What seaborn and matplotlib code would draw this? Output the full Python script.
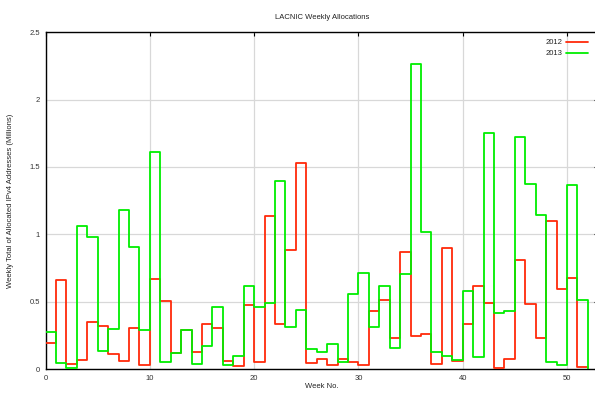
import numpy as np
import pandas as pd
import matplotlib
matplotlib.use("Agg")
import matplotlib.pyplot as plt
import seaborn as sns
from matplotlib.ticker import FormatStrFormatter, MultipleLocator
from matplotlib.lines import Line2D

# Weekly totals of allocated IPv4 addresses (millions); week 52 closes the series at zero
weeks = list(range(53))
alloc_2012 = [0.195, 0.658, 0.035, 0.067, 0.346, 0.319, 0.109, 0.062, 0.307, 0.027,
              0.665, 0.504, 0.121, 0.289, 0.129, 0.336, 0.302, 0.057, 0.020, 0.472,
              0.052, 1.135, 0.336, 0.880, 1.531, 0.042, 0.072, 0.032, 0.077, 0.054,
              0.030, 0.430, 0.514, 0.230, 0.870, 0.245, 0.257, 0.040, 0.900, 0.057,
              0.331, 0.618, 0.487, 0.005, 0.077, 0.811, 0.480, 0.228, 1.098, 0.596,
              0.678, 0.015, 0.0]
alloc_2013 = [0.277, 0.047, 0.010, 1.061, 0.979, 0.136, 0.294, 1.182, 0.903, 0.287,
              1.612, 0.054, 0.121, 0.289, 0.037, 0.173, 0.457, 0.032, 0.094, 0.616,
              0.462, 0.487, 1.397, 0.312, 0.440, 0.151, 0.126, 0.185, 0.049, 0.554,
              0.710, 0.314, 0.618, 0.153, 0.702, 2.265, 1.014, 0.124, 0.099, 0.067,
              0.581, 0.089, 1.753, 0.413, 0.430, 1.719, 1.372, 1.147, 0.052, 0.030,
              1.367, 0.509, 0.0]
years = ["2012", "2013"]
colors = {"2012": "#ff2a0a", "2013": "#00ee00"}

df = pd.concat([
    pd.DataFrame({"week": weeks, "alloc": alloc_2012, "year": years[0]}),
    pd.DataFrame({"week": weeks, "alloc": alloc_2013, "year": years[1]}),
])

sns.set_style("white")
plt.rcParams["font.family"] = ["Liberation Sans", "DejaVu Sans"]

fig = plt.figure(figsize=(5.95, 3.94), dpi=100)
ax = fig.add_axes([45.5 / 595, 25 / 394, 552.8 / 595, 336.7 / 394])

sns.lineplot(data=df, x="week", y="alloc", hue="year", palette=colors,
             estimator=None, sort=True, drawstyle="steps-post",
             linewidth=1.3, ax=ax, legend=False, zorder=3)

ax.set_xlim(0, 53)
ax.set_ylim(0, 2.5)
ax.xaxis.set_major_locator(MultipleLocator(10))
ax.yaxis.set_major_locator(MultipleLocator(0.5))
ax.yaxis.set_major_formatter(FormatStrFormatter("%g"))
ax.grid(True, color="#d8d8d8", linewidth=0.9, zorder=0)
ax.set_axisbelow(True)
ax.tick_params(direction="in", length=3, width=0.8, labelsize=5.5,
               top=True, right=True, colors="black", labelcolor="#333333", pad=4)
for s in ax.spines.values():
    s.set_color("black")
    s.set_linewidth(1.0)

ax.set_title("LACNIC Weekly Allocations", fontsize=5.5, color="#222222", pad=9.5)
ax.set_xlabel("Week No.", fontsize=5.5, color="#222222")
ax.set_ylabel("Weekly Total of Allocated IPv4 Addresses (Millions)", fontsize=5.5,
              color="#222222")
ax.xaxis.set_label_coords(0.5, -0.042)
ax.yaxis.set_label_coords(-0.057, 0.5)

# legend: label text to the left of a short line sample
handles = [Line2D([], [], color=colors[y], linewidth=1.3) for y in years]
leg = ax.legend(handles, years, loc="upper right", bbox_to_anchor=(0.986, 0.989),
                frameon=False, fontsize=5.5, markerfirst=False, handlelength=2.8,
                handletextpad=0.5, labelspacing=0.45, borderaxespad=0.2,
                borderpad=0.2)
for t in leg.get_texts():
    t.set_color("#222222")

fig.savefig("out.png", dpi=100)
